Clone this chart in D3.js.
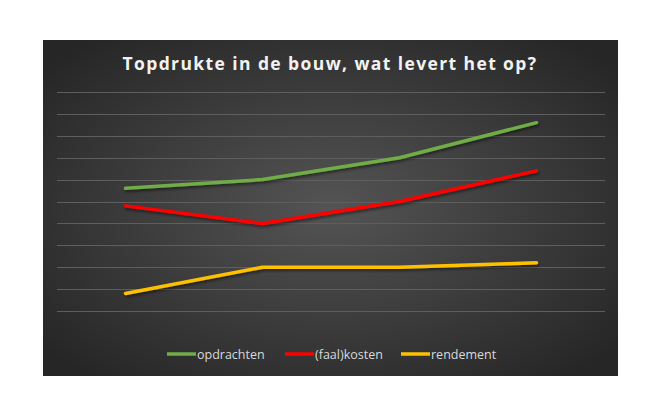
<!DOCTYPE html>
<html><head><meta charset="utf-8">
<script src="https://cdn.jsdelivr.net/npm/d3@7"></script>
<style>body{margin:0;background:#fff;}svg{display:block;}</style>
</head><body>
<svg id="c" width="667" height="415"></svg>
<script>
const categories = ["1", "2", "3", "4"];
const opdrachten = [5.6, 6.0, 7.0, 8.6];
const faalkosten = [4.8, 4.0, 5.0, 6.4];
const rendement = [0.8, 2.0, 2.0, 2.2];
const seriesNames = ["opdrachten", "(faal)kosten", "rendement"];
const seriesColors = ["#70ad47", "#ff0000", "#ffc000"];
const gridTicks = [0,1,2,3,4,5,6,7,8,9,10];

const svg = d3.select("#c");
const defs = svg.append("defs");
const grad = defs.append("radialGradient").attr("id","bg").attr("cx","50%").attr("cy","50%").attr("r","65%");
grad.append("stop").attr("offset","0%").attr("stop-color","#545454");
grad.append("stop").attr("offset","100%").attr("stop-color","#262626");
const f = defs.append("filter").attr("id","sh").attr("x","-10%").attr("y","-50%").attr("width","120%").attr("height","200%");
f.append("feDropShadow").attr("dx",1).attr("dy",2).attr("stdDeviation",1.5).attr("flood-color","#000").attr("flood-opacity",0.5);

svg.append("rect").attr("x",43).attr("y",40).attr("width",575).attr("height",336).attr("fill","url(#bg)");

const x = d3.scalePoint().domain(categories).range([125.5, 536.5]);
const y = d3.scaleLinear().domain([0,10]).range([311, 92]);

svg.append("g").selectAll("line").data(gridTicks).join("line")
  .attr("x1",57).attr("x2",605)
  .attr("y1",d=>Math.round(y(d))+0.5).attr("y2",d=>Math.round(y(d))+0.5)
  .attr("stroke","#5e5e5e").attr("stroke-width",1);

svg.append("text").attr("x",330).attr("y",70).attr("text-anchor","middle")
  .attr("fill","#f2f2f2").attr("font-family","'Open Sans'").attr("font-weight","bold")
  .attr("font-size",17.5).attr("letter-spacing",1.4)
  .text("Topdrukte in de bouw, wat levert het op?");

const data = [opdrachten, faalkosten, rendement];
const line = d3.line().x((d,i)=>x(categories[i])).y(d=>y(d));
data.forEach((s,k)=>{
  svg.append("path").datum(s).attr("d",line).attr("fill","none")
    .attr("stroke",seriesColors[k]).attr("stroke-width",3.5)
    .attr("stroke-linecap","round").attr("stroke-linejoin","round").attr("filter","url(#sh)");
});

const legX = [167, 285, 401];
seriesNames.forEach((n,k)=>{
  const g = svg.append("g");
  g.append("line").attr("x1",legX[k]).attr("x2",legX[k]+29).attr("y1",354).attr("y2",354)
    .attr("stroke",seriesColors[k]).attr("stroke-width",3.5);
  g.append("text").attr("x",legX[k]+30).attr("y",358.5).attr("fill","#d9d9d9")
    .attr("font-family","'Open Sans'").attr("font-size",12.5).text(n);
});
</script>
</body></html>
